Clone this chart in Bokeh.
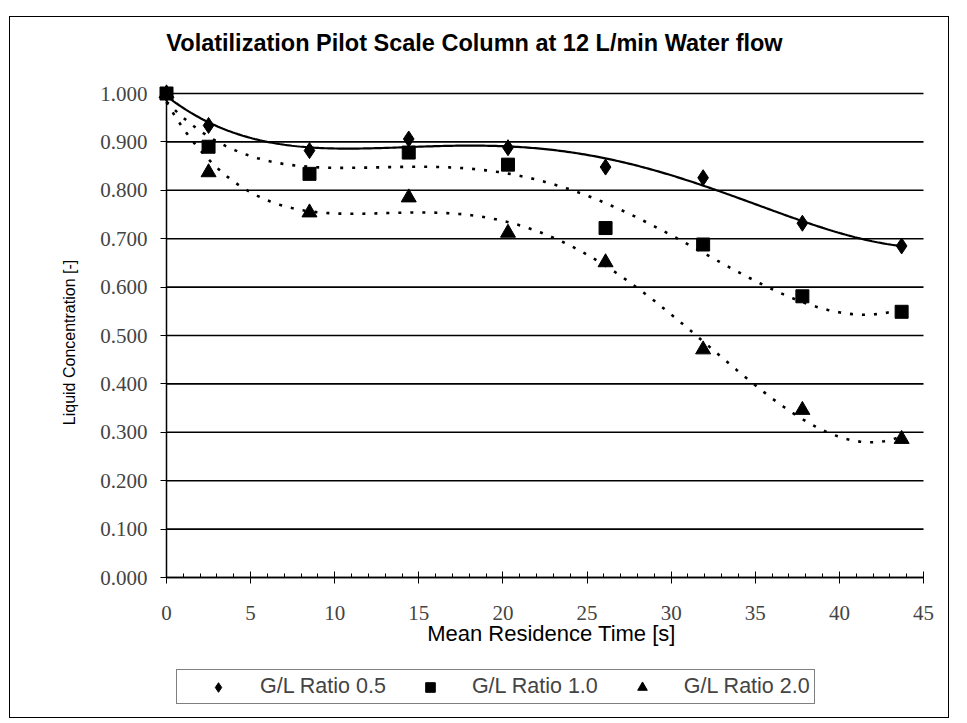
import numpy as np
from bokeh.plotting import figure
from bokeh.models import Range1d, FixedTicker, NumeralTickFormatter, Legend, LegendItem, Label
from bokeh.embed import file_html
from bokeh.resources import INLINE

# ---- data ----
time_s = [0.0, 2.5, 8.5, 14.4, 20.3, 26.1, 31.9, 37.8, 43.7]
gl_05 = [1.000, 0.934, 0.882, 0.906, 0.888, 0.848, 0.826, 0.732, 0.685]
gl_10 = [1.000, 0.890, 0.834, 0.878, 0.853, 0.722, 0.688, 0.581, 0.549]
gl_20 = [1.000, 0.837, 0.754, 0.785, 0.712, 0.651, 0.471, 0.346, 0.286]
series_names = ["G/L Ratio 0.5", "G/L Ratio 1.0", "G/L Ratio 2.0"]
x_ticks = [0, 5, 10, 15, 20, 25, 30, 35, 40, 45]
x_minor = list(range(0, 46))
y_ticks = [0.0, 0.1, 0.2, 0.3, 0.4, 0.5, 0.6, 0.7, 0.8, 0.9, 1.0]
X_MIN, X_MAX = 0, 45
Y_MIN, Y_MAX = 0.0, 1.0
chart_title = "Volatilization Pilot Scale Column at 12 L/min Water flow"
x_title = "Mean Residence Time [s]"
y_title = "Liquid Concentration [-]"
trend_order = 4  # Excel-style polynomial trendline fitted to each series

SANS = "Liberation Sans"
SERIF = "Liberation Serif"

# ---- layout (page pixels) ----
FIG_W, FIG_H = 940, 702
CANVAS_X0, CANVAS_Y0 = 10, 17          # after CSS margin + border
PLOT_L, PLOT_R = 166, 923              # pixel of X_MIN / X_MAX
PLOT_B, PLOT_T = 577, 93               # pixel of Y_MIN / Y_MAX
px_x = (PLOT_R - PLOT_L) / (X_MAX - X_MIN)
px_y = (PLOT_B - PLOT_T) / (Y_MAX - Y_MIN)
x_start = X_MIN - (PLOT_L - CANVAS_X0) / px_x
x_end = X_MAX + (CANVAS_X0 + FIG_W - PLOT_R) / px_x
y_end = Y_MAX + (PLOT_T - CANVAS_Y0) / px_y
y_start = Y_MIN - (CANVAS_Y0 + FIG_H - PLOT_B) / px_y


def dx(page_x):
    return X_MIN + (page_x - PLOT_L) / px_x


def dy(page_y):
    return Y_MIN + (PLOT_B - page_y) / px_y


p = figure(width=FIG_W, height=FIG_H, output_backend="svg", toolbar_location=None,
           x_range=Range1d(x_start, x_end), y_range=Range1d(y_start, y_end),
           min_border=0)
p.styles = {"border": "1px solid black", "margin-left": "9px", "margin-top": "16px"}
p.outline_line_color = None
p.background_fill_color = "white"
p.border_fill_color = "white"
p.xgrid.visible = False
p.ygrid.visible = False

# axes (fixed at the origin so that the frame can hold every text)
xa = p.xaxis[0]
xa.fixed_location = Y_MIN
xa.bounds = (X_MIN, X_MAX)
xa.ticker = FixedTicker(ticks=x_ticks, minor_ticks=x_minor)
xa.major_tick_in = 6
xa.major_tick_out = 6
xa.minor_tick_in = 4
xa.minor_tick_out = 0
xa.axis_line_width = 1.5
xa.major_label_text_font = SERIF
xa.major_label_text_font_size = "21px"
xa.major_label_standoff = 22

ya = p.yaxis[0]
ya.fixed_location = X_MIN
ya.bounds = (Y_MIN, Y_MAX)
ya.ticker = FixedTicker(ticks=y_ticks, minor_ticks=[])
ya.formatter = NumeralTickFormatter(format="0.000")
ya.major_tick_in = 0
ya.major_tick_out = 6
ya.axis_line_width = 1.5
ya.major_label_text_font = SERIF
ya.major_label_text_font_size = "21px"
ya.major_label_standoff = 13

# horizontal grid lines at the y ticks, spanning the axis range
p.segment(x0=X_MIN, x1=X_MAX, y0=y_ticks, y1=y_ticks, line_color="black",
          line_width=1.6, level="underlay")

# titles
p.add_layout(Label(x=dx(474), y=dy(42), text=chart_title, text_font=SANS,
                   text_font_style="bold", text_font_size="23.5px",
                   text_align="center", text_baseline="middle", text_color="black"))
p.add_layout(Label(x=dx(551), y=dy(633), text=x_title, text_font=SANS,
                   text_font_size="22px", text_align="center",
                   text_baseline="middle", text_color="black"))
p.add_layout(Label(x=dx(69), y=dy(342), text=y_title, text_font=SANS,
                   text_font_size="16px", text_align="center", angle=np.pi / 2,
                   text_baseline="middle", text_color="black"))

# trendlines
x_fit = np.linspace(time_s[0], time_s[-1], 300)
dashes = ["solid", "3 9", "3 9"]
for ys, dash in zip([gl_05, gl_10, gl_20], dashes):
    coef = np.polyfit(time_s, ys, trend_order)
    p.line(x_fit, np.polyval(coef, x_fit), line_color="black",
           line_width=2.2 if dash == "solid" else 2.6, line_dash=dash)

# markers
r05 = p.scatter(time_s, gl_05, marker="diamond", size=16, color="black", level="overlay")
r10 = p.scatter(time_s, gl_10, marker="square", size=13, color="black", level="overlay")
r20 = p.scatter(time_s, gl_20, marker="triangle", size=15, color="black", level="overlay")

legend = Legend(items=[LegendItem(label=series_names[0], renderers=[r05]),
                       LegendItem(label=series_names[1], renderers=[r10]),
                       LegendItem(label=series_names[2], renderers=[r20])],
                orientation="horizontal",
                location=(176 - CANVAS_X0, CANVAS_Y0 + FIG_H - 704),
                padding=4, margin=0, spacing=7,
                glyph_width=74, glyph_height=24, label_height=24,
                label_standoff=5, label_text_font=SANS, label_text_font_size="21.5px",
                border_line_color="black", border_line_width=1.2,
                background_fill_color="white", background_fill_alpha=1.0)
p.add_layout(legend)

open("out.html", "w").write(file_html(p, INLINE))
